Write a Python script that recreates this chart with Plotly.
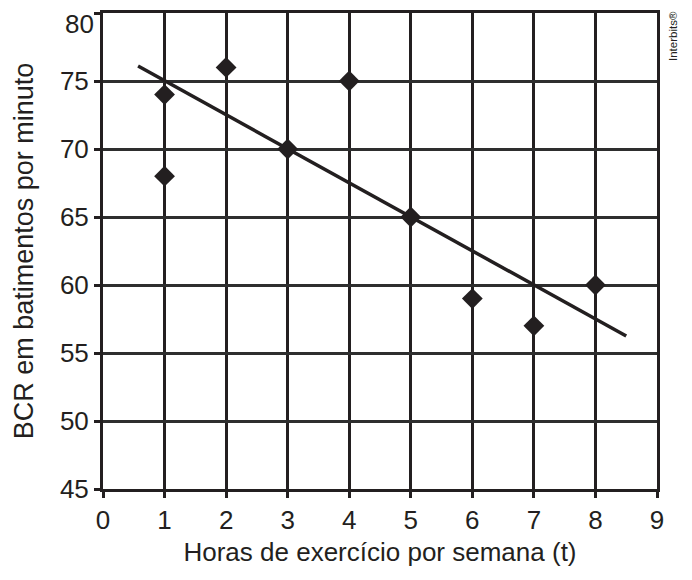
import plotly.graph_objects as go

# dados
horas = [1, 1, 2, 3, 4, 5, 6, 7, 8]
bcr = [74, 68, 76, 70, 75, 65, 59, 57, 60]

# reta de tendência (extremos)
reta_x = [0.57, 8.5]
reta_y = [76.1, 56.25]

x_ticks = list(range(0, 10))
y_ticks = list(range(45, 81, 5))

INK = "#231f20"

fig = go.Figure()
fig.add_trace(go.Scatter(
    x=reta_x, y=reta_y, mode="lines",
    line=dict(color=INK, width=3.5), showlegend=False, hoverinfo="skip"
))
fig.add_trace(go.Scatter(
    x=horas, y=bcr, mode="markers",
    marker=dict(symbol="diamond", size=16, color=INK), showlegend=False
))

font = dict(family="Liberation Sans, Arial, sans-serif", size=26, color=INK)

# o rótulo do topo fica um pouco abaixo da linha, como no original
y_text = [str(v) for v in y_ticks[:-1]] + [""]

fig.update_xaxes(
    range=[0, 9], tickvals=x_ticks, showgrid=True, gridcolor=INK, gridwidth=3,
    showline=True, linecolor=INK, linewidth=3, mirror=True,
    ticks="outside", ticklen=6, tickwidth=3, tickcolor=INK,
    zeroline=False, tickfont=font, automargin=False, ticklabeloverflow="allow",
    title=dict(text="Horas de exercício por semana (t)", font=font, standoff=9),
)
fig.update_yaxes(
    range=[45, 80], tickvals=y_ticks, ticktext=y_text,
    showgrid=True, gridcolor="#2e2e2e", gridwidth=2.5,
    showline=True, linecolor=INK, linewidth=3, mirror=True,
    ticks="outside", ticklen=6, tickwidth=2.5, tickcolor=INK,
    zeroline=False, tickfont=font, automargin=False, ticklabeloverflow="allow",
    title=dict(text="BCR em batimentos por minuto",
               font=dict(font, size=27), standoff=19),
)

fig.add_annotation(
    text=str(y_ticks[-1]), xref="paper", yref="y", x=0, y=y_ticks[-1],
    xanchor="right", yanchor="top", xshift=-8, yshift=5, borderpad=0,
    showarrow=False, font=font,
)

fig.add_annotation(
    text="Interbits®", xref="paper", yref="paper", x=1.0, y=1.0,
    xshift=16, yshift=-23, textangle=-90, showarrow=False,
    xanchor="center", yanchor="middle",
    font=dict(family="Liberation Sans, Arial, sans-serif", size=11.5, color=INK),
)

fig.update_layout(
    width=684, height=572,
    margin=dict(l=95, r=35, t=5, b=91),
    plot_bgcolor="white", paper_bgcolor="white",
)

fig.write_html("out.html")
